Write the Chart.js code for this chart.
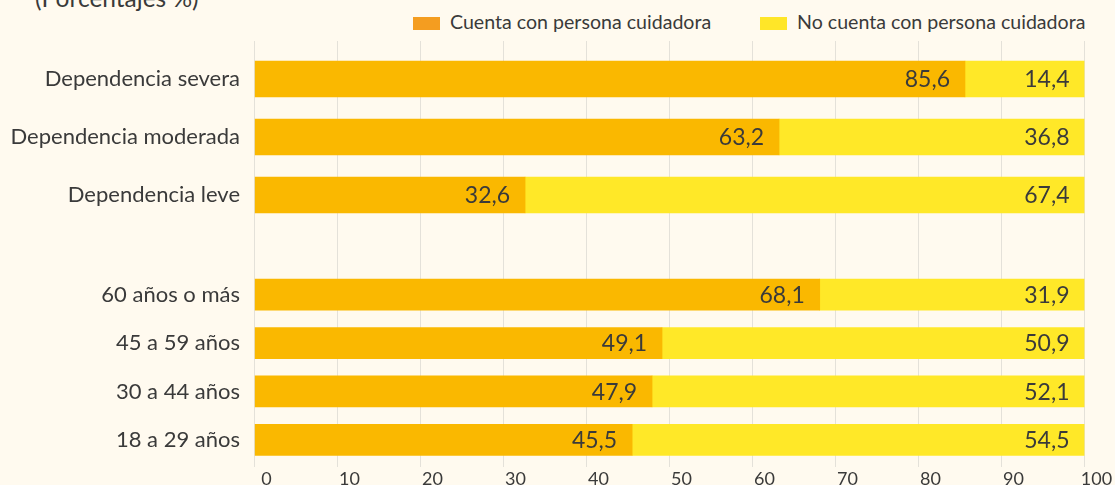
<!DOCTYPE html>
<html>
<head>
<meta charset="utf-8">
<script src="https://cdn.jsdelivr.net/npm/chart.js@4.4.1/dist/chart.umd.min.js"></script>
<style>
  body { margin: 0; width: 1115px; height: 485px; overflow: hidden; position: relative;
         background: #FFFAEF; font-family: Lato, sans-serif; color: #3a3a3a; }
  #titulo { position: absolute; left: 35px; top: -15px; font-size: 24.5px; line-height: 25px; white-space: nowrap; }
  .item { position: absolute; top: 10px; font-size: 19.6px; line-height: 24px; white-space: nowrap; }
  .caja { display: inline-block; width: 27px; height: 13px; margin-right: 10px; vertical-align: -1px; }
  canvas { position: absolute; left: 0; }
  #arriba { top: 0; }
  #abajo { top: 224px; }
</style>
</head>
<body>
<div id="titulo">(Porcentajes %)</div>
<div id="leyenda"></div>
<canvas id="arriba" width="1115" height="224"></canvas>
<canvas id="abajo" width="1115" height="270"></canvas>
<script>
// datos
const catDependencia = ['Dependencia severa', 'Dependencia moderada', 'Dependencia leve'];
const conDependencia = [85.6, 63.2, 32.6];
const sinDependencia = [14.4, 36.8, 67.4];

const catEdad = ['60 años o más', '45 a 59 años', '30 a 44 años', '18 a 29 años'];
const conEdad = [68.1, 49.1, 47.9, 45.5];
const sinEdad = [31.9, 50.9, 52.1, 54.5];

const series = ['Cuenta con persona cuidadora', 'No cuenta con persona cuidadora'];
const xTicks = [0, 10, 20, 30, 40, 50, 60, 70, 80, 90, 100];

const colorBarra = ['#FAB800', '#FFE828'];
const colorLeyenda = ['#F49D20', '#FFE628'];
const texto = '#3a3a3a';
const rejilla = '#e4e1d9';

// leyenda
const leyenda = document.getElementById('leyenda');
const posLeyenda = [413, 760];
series.forEach(function (s, i) {
  const d = document.createElement('div');
  d.className = 'item';
  d.style.left = posLeyenda[i] + 'px';
  d.innerHTML = '<span class="caja" style="background:' + colorLeyenda[i] + '"></span>' + s;
  leyenda.appendChild(d);
});

// etiquetas de valor al final de cada tramo
const valores = {
  id: 'valores',
  afterDatasetsDraw(chart) {
    const ctx = chart.ctx;
    ctx.save();
    ctx.font = '23px Lato';
    ctx.fillStyle = texto;
    ctx.textAlign = 'right';
    ctx.textBaseline = 'middle';
    chart.data.datasets.forEach(function (ds, i) {
      chart.getDatasetMeta(i).data.forEach(function (bar, j) {
        ctx.fillText(ds.data[j].toFixed(1).replace('.', ','), bar.x - 15, bar.y + 1);
      });
    });
    ctx.restore();
  }
};

function ejeY() {
  return {
    stacked: true,
    grid: { display: false, drawTicks: false },
    border: { display: false },
    ticks: { padding: 14.5, color: texto, font: { family: 'Lato', size: 22 } },
    afterFit: function (scale) {
      scale.width = 254.5;
      scale.paddingTop = 0;
      scale.paddingBottom = 0;
    }
  };
}

function ejeX(pos, largo, conTicks) {
  return {
    type: 'linear',
    position: pos,
    stacked: true,
    min: 0,
    max: 100,
    afterBuildTicks: function (scale) { scale.ticks = xTicks.map(v => ({ value: v })); },
    grid: { color: rejilla, tickLength: largo },
    border: { display: false },
    ticks: { display: conTicks, padding: 1, labelOffset: 12, maxRotation: 0,
             color: texto, font: { family: 'Lato', size: 18 } }
  };
}

function datasets(con, sin, grosor) {
  return [
    { label: series[0], data: con, backgroundColor: colorBarra[0], barThickness: grosor },
    { label: series[1], data: sin, backgroundColor: colorBarra[1], barThickness: grosor }
  ];
}

const comunes = {
  indexAxis: 'y',
  responsive: false,
  animation: false,
  plugins: { legend: { display: false }, tooltip: { enabled: false } }
};

new Chart(document.getElementById('arriba'), {
  type: 'bar',
  data: { labels: catDependencia, datasets: datasets(conDependencia, sinDependencia, 36) },
  options: Object.assign({}, comunes, {
    layout: { padding: { top: 41, right: 30.5, bottom: 0, left: 0 } },
    scales: { x: ejeX('top', 9, false), y: ejeY() }
  }),
  plugins: [valores]
});

new Chart(document.getElementById('abajo'), {
  type: 'bar',
  data: { labels: catEdad, datasets: datasets(conEdad, sinEdad, 31) },
  options: Object.assign({}, comunes, {
    layout: { padding: { top: 0, right: 30.5, bottom: 3.4, left: 0 } },
    scales: { x: ejeX('bottom', 3, true), xHueco: ejeX('top', 46.5, false), y: ejeY() }
  }),
  plugins: [valores]
});
</script>
</body>
</html>
